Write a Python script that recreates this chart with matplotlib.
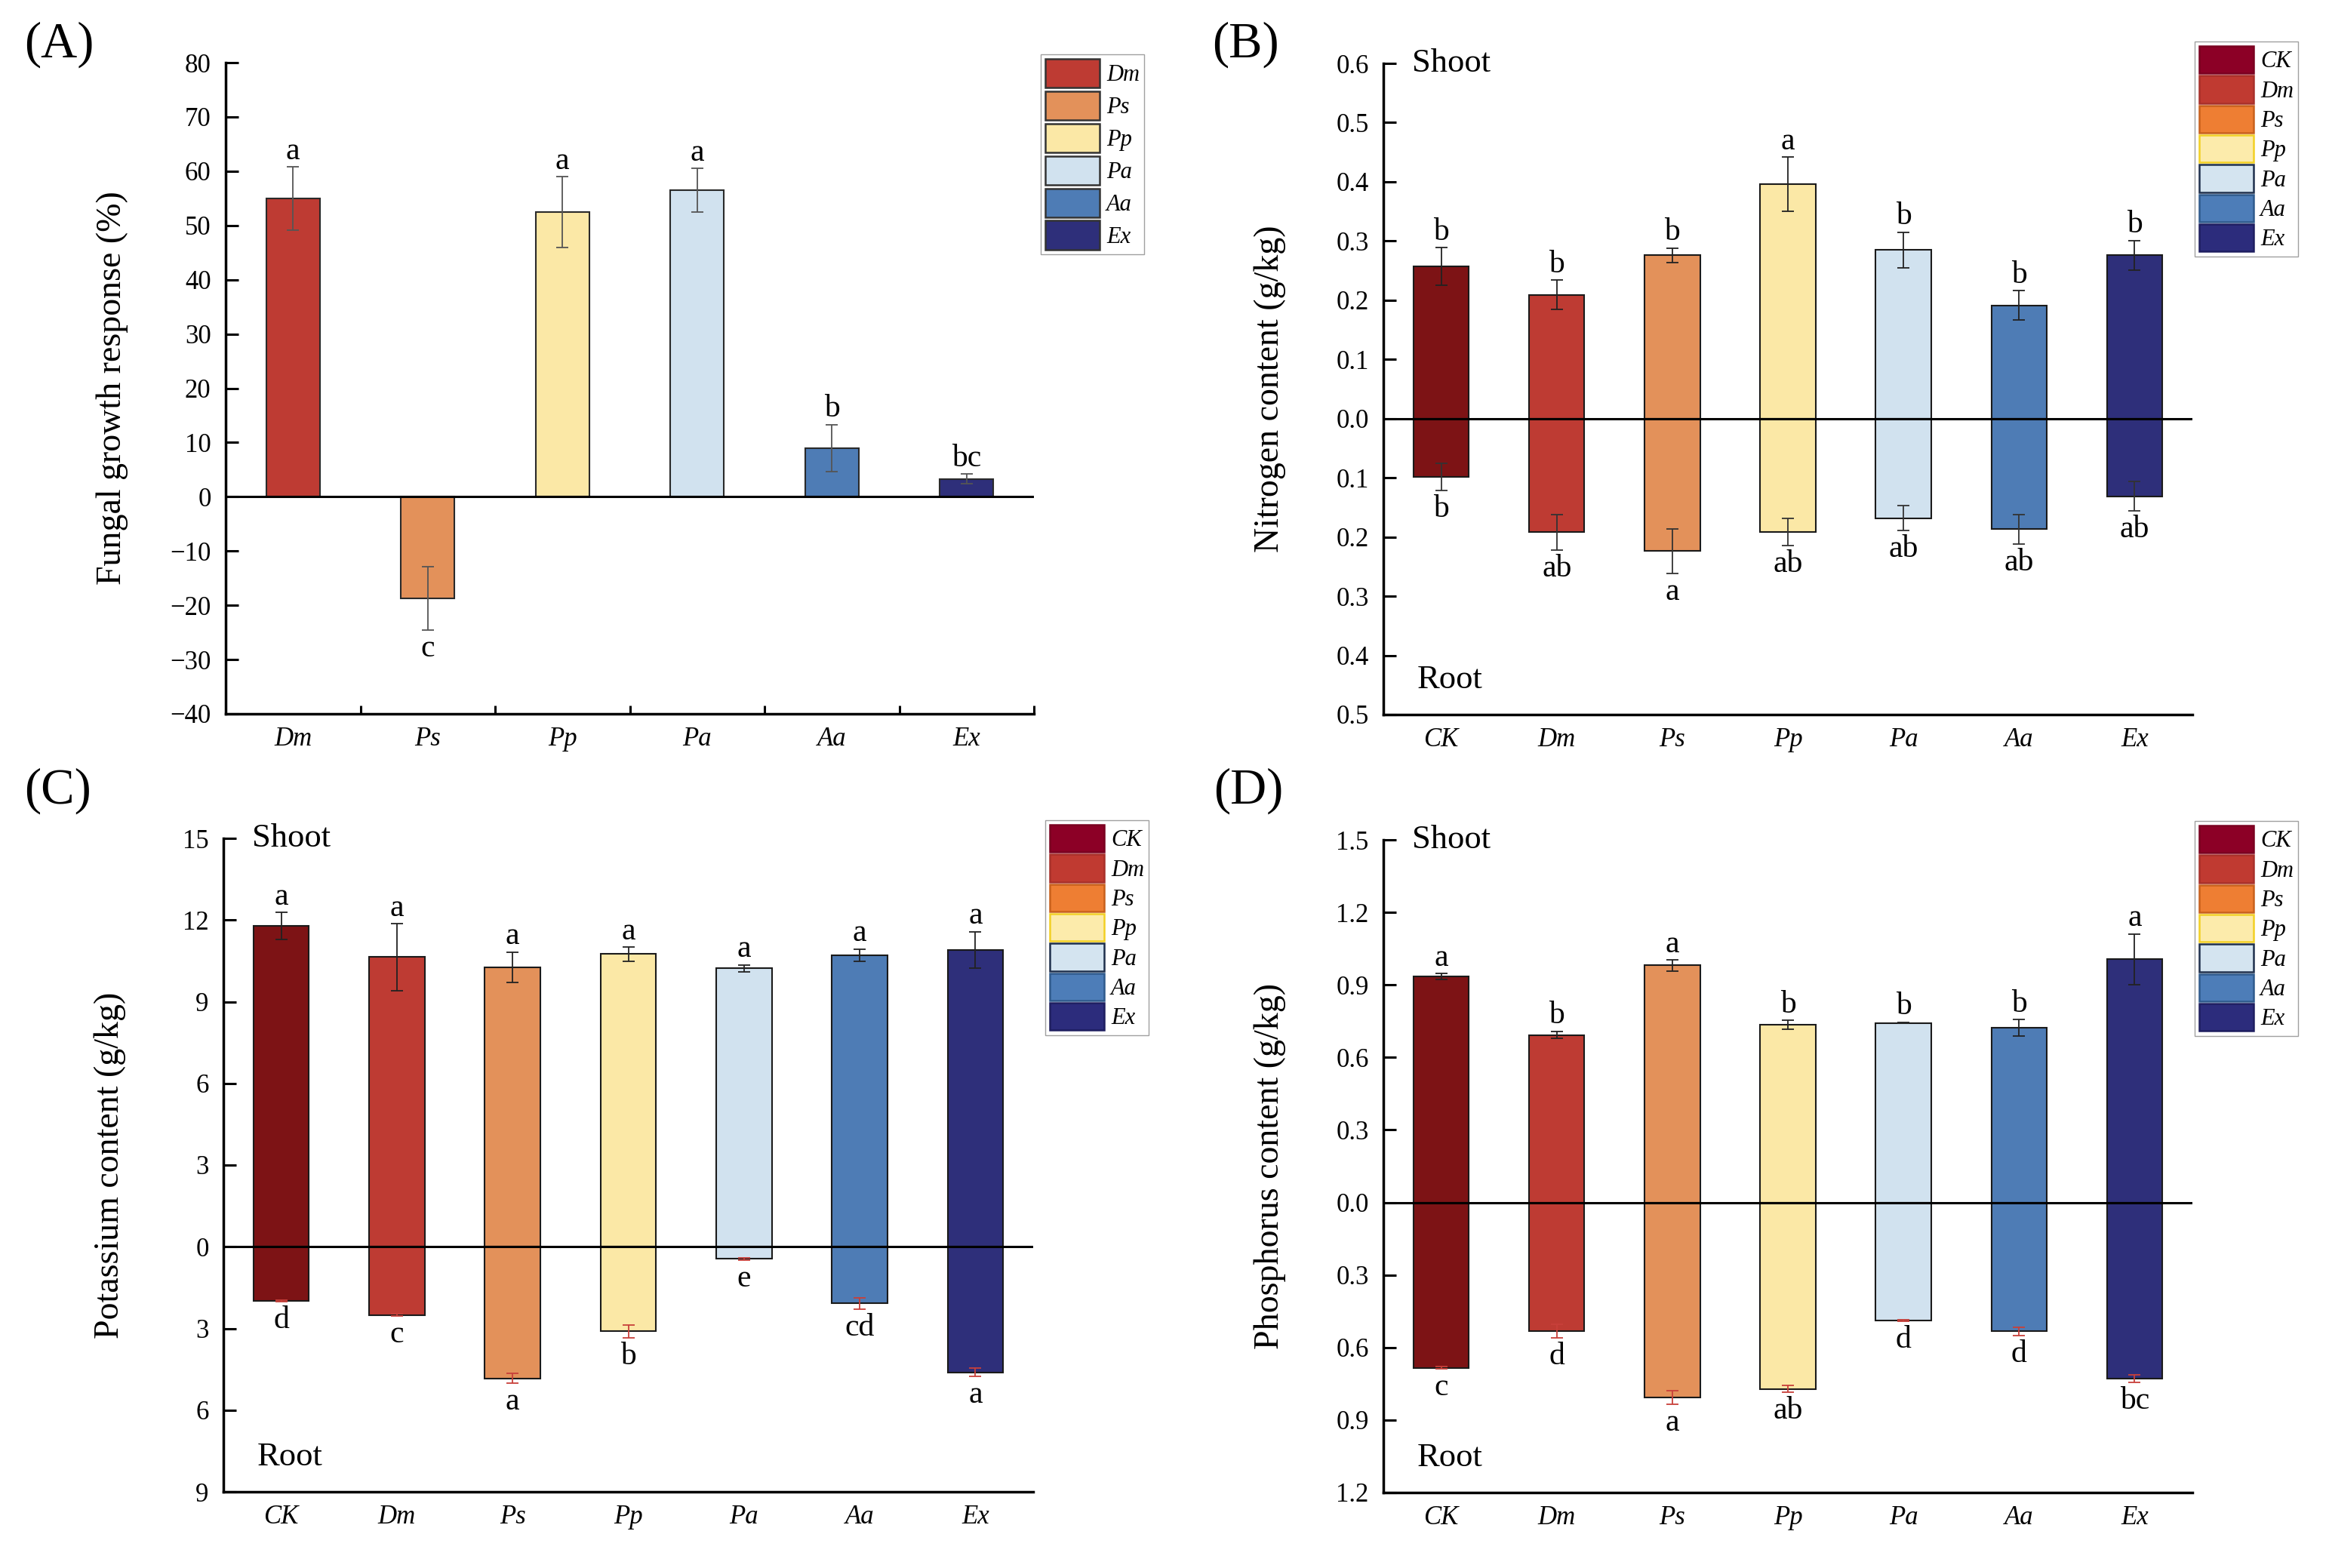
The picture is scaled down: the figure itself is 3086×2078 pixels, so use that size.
import matplotlib
matplotlib.use('Agg')
import matplotlib.pyplot as plt
from matplotlib.patches import Patch
from matplotlib.ticker import FuncFormatter
import numpy as np

plt.rcParams['font.family'] = ['Liberation Serif', 'DejaVu Serif']

# ---- data ----
groups_a = ['Dm', 'Ps', 'Pp', 'Pa', 'Aa', 'Ex']
fungal_mean = [55.0, -18.7, 52.5, 56.5, 9.0, 3.3]
fungal_err = [5.8, 5.8, 6.5, 4.0, 4.3, 0.9]
fungal_sig = ['a', 'c', 'a', 'a', 'b', 'bc']

groups = ['CK', 'Dm', 'Ps', 'Pp', 'Pa', 'Aa', 'Ex']

n_shoot = [0.257, 0.209, 0.276, 0.396, 0.285, 0.191, 0.276]
n_shoot_err = [0.032, 0.025, 0.012, 0.046, 0.030, 0.025, 0.025]
n_shoot_sig = ['b', 'b', 'b', 'a', 'b', 'b', 'b']
n_root = [0.098, 0.192, 0.224, 0.192, 0.168, 0.187, 0.131]
n_root_err = [0.023, 0.030, 0.038, 0.023, 0.021, 0.025, 0.025]
n_root_sig = ['b', 'ab', 'a', 'ab', 'ab', 'ab', 'ab']

k_shoot = [11.78, 10.64, 10.26, 10.75, 10.22, 10.71, 10.90]
k_shoot_err = [0.50, 1.23, 0.56, 0.26, 0.13, 0.22, 0.67]
k_shoot_sig = ['a', 'a', 'a', 'a', 'a', 'a', 'a']
k_root = [1.98, 2.51, 4.83, 3.11, 0.45, 2.08, 4.61]
k_root_err = [0.03, 0.04, 0.18, 0.23, 0.03, 0.20, 0.15]
k_root_sig = ['d', 'c', 'a', 'b', 'e', 'cd', 'a']

p_shoot = [0.935, 0.693, 0.981, 0.735, 0.743, 0.722, 1.006]
p_shoot_err = [0.012, 0.015, 0.023, 0.018, 0.002, 0.034, 0.105]
p_shoot_sig = ['a', 'b', 'a', 'b', 'b', 'b', 'a']
p_root = [0.684, 0.533, 0.806, 0.771, 0.488, 0.533, 0.728]
p_root_err = [0.005, 0.028, 0.028, 0.013, 0.003, 0.018, 0.015]
p_root_sig = ['c', 'd', 'a', 'ab', 'd', 'd', 'bc']

# ---- colours ----
bar_colors = {'CK': '#7d1315', 'Dm': '#be3b33', 'Ps': '#e3915a', 'Pp': '#fbe8a6',
              'Pa': '#d1e2ef', 'Aa': '#4e7cb5', 'Ex': '#2e2f7a'}
leg_colors = {'CK': '#8c0026', 'Dm': '#c03a31', 'Ps': '#ee7e33', 'Pp': '#fcebab',
              'Pa': '#d4e4f0', 'Aa': '#4d7db8', 'Ex': '#2c2c7c'}
leg_edges = {'CK': '#7a0020', 'Dm': '#a8302a', 'Ps': '#c8601c', 'Pp': '#f2d024',
             'Pa': '#1e2f4c', 'Aa': '#2f5a8c', 'Ex': '#1e1e60'}

W, H = 3086, 2078
fig = plt.figure(figsize=(W / 100, H / 100), dpi=100)

TICK = 25
LET = 30
YLAB = 33


def px_axes(l, r, t, b):
    return fig.add_axes([l / W, 1 - b / H, (r - l) / W, (b - t) / H])


def style_axes(ax):
    for s in ['top', 'right']:
        ax.spines[s].set_visible(False)
    for s in ['left', 'bottom']:
        ax.spines[s].set_linewidth(2.5)
    ax.tick_params(axis='y', direction='in', length=12, width=2.2, labelsize=TICK, pad=14)
    ax.tick_params(axis='x', which='major', length=0, labelsize=TICK, pad=12)
    for lab in ax.get_xticklabels():
        lab.set_style('italic')


def add_legend(names, x0, y0, edges, hh=1.55, ls=0.15):
    handles = [Patch(facecolor=leg_colors[g] if edges else bar_colors[g],
                     edgecolor=leg_edges[g] if edges else '#333333',
                     linewidth=1.8, label=g) for g in names]
    fig.legend(handles=handles, loc='upper left', bbox_to_anchor=(x0 / W, 1 - y0 / H),
               bbox_transform=fig.transFigure, prop={'style': 'italic', 'size': 22},
               handlelength=2.35, handleheight=hh, labelspacing=ls, handletextpad=0.3,
               borderpad=0.2, borderaxespad=0, fancybox=False, frameon=True,
               edgecolor='#a0a0a0', framealpha=1)


# ---- (A) fungal growth response ----
axA = px_axes(299, 1370, 83, 946)
xa = np.arange(len(groups_a))
axA.bar(xa, fungal_mean, width=0.4, color=[bar_colors[g] for g in groups_a],
        edgecolor='#2a2a2a', linewidth=1.5, zorder=2)
axA.errorbar(xa, fungal_mean, yerr=fungal_err, fmt='none', ecolor='#555555',
             elinewidth=1.3, capsize=6, capthick=1.3, zorder=3)
axA.axhline(0, color='black', lw=2.2, zorder=4)
for i, (m, e, s) in enumerate(zip(fungal_mean, fungal_err, fungal_sig)):
    if m >= 0:
        axA.annotate(s, (i, m + e), xytext=(0, 1), textcoords='offset points',
                     ha='center', va='bottom', fontsize=LET)
    else:
        axA.annotate(s, (i, m - e), xytext=(0, -4), textcoords='offset points',
                     ha='center', va='top', fontsize=LET)
axA.set_xlim(-0.5, 5.5)
axA.set_ylim(-40, 80)
axA.set_yticks(np.arange(-40, 81, 10))
axA.set_yticklabels([str(v).replace('-', '\u2212') for v in range(-40, 81, 10)])
axA.set_xticks(xa)
axA.set_xticklabels(groups_a)
axA.set_xticks(np.arange(0.5, 6, 1), minor=True)
style_axes(axA)
axA.tick_params(axis='x', which='minor', direction='in', length=8, width=2.2)
axA.set_ylabel('Fungal growth response (%)', fontsize=YLAB)
axA.yaxis.set_label_coords(-0.12, 0.5)
add_legend(groups_a, 1379, 72, edges=False)


# ---- shoot / root panels ----
def shoot_root(ax, shoot, shoot_err, shoot_sig, root, root_err, root_sig,
               ymin, ymax, step, fmt, ylabel, root_ecolor):
    x = np.arange(len(groups))
    cols = [bar_colors[g] for g in groups]
    ax.bar(x, shoot, width=0.48, color=cols, edgecolor='#1a1a1a', linewidth=1.5, zorder=2)
    ax.bar(x, -np.array(root), width=0.48, color=cols, edgecolor='#1a1a1a', linewidth=1.5, zorder=2)
    ax.errorbar(x, shoot, yerr=shoot_err, fmt='none', ecolor='#222222',
                elinewidth=1.3, capsize=6, capthick=1.3, zorder=3)
    ax.errorbar(x, -np.array(root), yerr=root_err, fmt='none', ecolor=root_ecolor,
                elinewidth=1.3, capsize=6, capthick=1.3, zorder=3)
    ax.axhline(0, color='black', lw=2.2, zorder=4)
    for i in range(len(groups)):
        ax.annotate(shoot_sig[i], (i, shoot[i] + shoot_err[i]), xytext=(0, 1),
                    textcoords='offset points', ha='center', va='bottom', fontsize=LET)
        ax.annotate(root_sig[i], (i, -root[i] - root_err[i]), xytext=(0, -4),
                    textcoords='offset points', ha='center', va='top', fontsize=LET)
    ax.set_xlim(-0.5, len(groups) - 0.5)
    ax.set_ylim(ymin, ymax)
    ax.set_yticks(np.arange(ymin, ymax + step / 2, step))
    ax.yaxis.set_major_formatter(FuncFormatter(lambda v, p: fmt.format(abs(v) + 0.0)))
    ax.set_xticks(x)
    ax.set_xticklabels(groups)
    style_axes(ax)
    ax.set_ylabel(ylabel, fontsize=YLAB)
    ax.yaxis.set_label_coords(-0.12, 0.5)
    ax.text(0.035, 1.0, 'Shoot', transform=ax.transAxes, ha='left', va='center', fontsize=32)
    ax.text(0.042, 0.053, 'Root', transform=ax.transAxes, ha='left', va='center', fontsize=32)


axB = px_axes(1833, 2905, 84, 947)
shoot_root(axB, n_shoot, n_shoot_err, n_shoot_sig, n_root, n_root_err, n_root_sig,
           -0.5, 0.6, 0.1, '{:.1f}', 'Nitrogen content (g/kg)', '#333333')
add_legend(groups, 2908, 55, edges=True, hh=1.45, ls=0.1)

axC = px_axes(296, 1369, 1111, 1977)
shoot_root(axC, k_shoot, k_shoot_err, k_shoot_sig, k_root, k_root_err, k_root_sig,
           -9, 15, 3, '{:.0f}', 'Potassium content (g/kg)', '#c8403a')
add_legend(groups, 1385, 1087, edges=True, hh=1.45, ls=0.1)

axD = px_axes(1833, 2905, 1113, 1978)
shoot_root(axD, p_shoot, p_shoot_err, p_shoot_sig, p_root, p_root_err, p_root_sig,
           -1.2, 1.5, 0.3, '{:.1f}', 'Phosphorus content (g/kg)', '#c8403a')
add_legend(groups, 2908, 1088, edges=True, hh=1.45, ls=0.1)

# panel letters
for lab, x0, y0 in [('(A)', 32, 28), ('(B)', 1606, 28), ('(C)', 32, 1017), ('(D)', 1608, 1017)]:
    fig.text(x0 / W, 1 - y0 / H, lab, fontsize=48, ha='left', va='top')

fig.savefig('out.png', dpi=100, facecolor='white')
